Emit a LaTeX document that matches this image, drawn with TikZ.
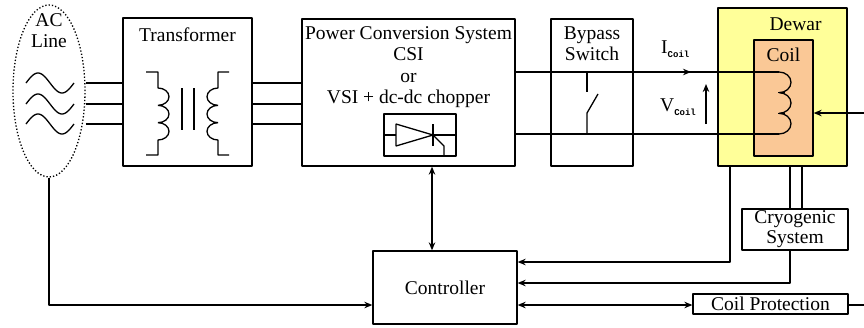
\documentclass[tikz,border=0pt]{standalone}
\usepackage{fontspec}
\setmainfont{Liberation Serif}
\newfontfamily\subfont{Liberation Mono}
\usepackage{tikz}
\usetikzlibrary{arrows.meta, shapes, positioning}
\usepackage{xcolor}
\definecolor{dewaryellow}{RGB}{255,255,153}
\definecolor{coilorange}{RGB}{250,200,150}
\tikzset{blockbox/.style={draw=black, line width=1.3pt, inner sep=0pt},
blocktext/.style={inner sep=0pt, font=\fontsize{19.5}{21.5}\selectfont, align=center},
wire/.style={line width=1.3pt},
sigarrow/.style={line width=1.3pt, -{Stealth[length=8pt, width=6.5pt]}},
sigdouble/.style={line width=1.3pt, {Stealth[length=8pt, width=6.5pt]}-{Stealth[length=8pt, width=6.5pt]}}}
\newcommand{\coilsub}[1]{\raisebox{-4pt}{\subfont\bfseries\fontsize{9}{9}\selectfont #1}}

\begin{document}
\begin{tikzpicture}[
                line join=bevel,
                wire/.style={line width=1.3pt}
            ]
                \useasboundingbox (0pt, 0pt) rectangle (864pt, -327pt);

                % Blocks
                \node[draw=black, line width=1.3pt, dash pattern=on 1.3pt off 2pt, ellipse, minimum width=72pt, minimum height=172pt, inner sep=0pt] (acline) at (49pt, -91pt) {};
                \node[blockbox, minimum width=129pt, minimum height=148pt] (trafo) at (187.5pt, -92pt) {};
                \node[blockbox, minimum width=213pt, minimum height=147pt] (pcs) at (408.5pt, -92.5pt) {};
                \node[blockbox, minimum width=72pt, minimum height=42pt] (thyr) at (420pt, -135pt) {};
                \node[blockbox, minimum width=82pt, minimum height=147pt] (bypass) at (592pt, -92.5pt) {};
                \node[blockbox, fill=dewaryellow, minimum width=129pt, minimum height=158pt] (dewar) at (782.5pt, -87pt) {};
                \node[blockbox, fill=coilorange, minimum width=59pt, minimum height=116pt] (coil) at (783.5pt, -98pt) {};
                \node[blockbox, minimum width=106pt, minimum height=41pt] (cryo) at (795pt, -229.5pt) {};
                \node[blockbox, minimum width=155pt, minimum height=20pt] (cprot) at (770.5pt, -304pt) {};
                \node[blockbox, minimum width=144pt, minimum height=73pt] (ctl) at (445pt, -287.5pt) {};

                % Labels
                \node[blocktext, below=9pt of acline.north] (aclinetext) {AC\\Line};
                \node[blocktext, below=10pt of trafo.north] (trafotext) {Transformer};
                \node[blocktext, below=8pt of pcs.north] (pcstext) {Power Conversion System\\CSI\\or\\VSI + dc-dc chopper};
                \node[blocktext, below=8pt of bypass.north] (bypasstext) {Bypass\\Switch};
                \node[blocktext, below=10pt of dewar.north, xshift=13pt] (dewartext) {Dewar};
                \node[blocktext, below=8pt of coil.north] (coiltext) {Coil};
                \node[blocktext, font=\fontsize{19.5}{20}\selectfont] (cryotext) at (cryo) {Cryogenic\\System};
                \node[blocktext] (cprottext) at (cprot) {Coil Protection};
                \node[blocktext] (ctltext) at (ctl) {Controller};
                \node[blocktext, anchor=base west] (icoil) at (661pt, -53pt) {I\coilsub{Coil}};
                \node[blocktext, anchor=base west] (vcoil) at (660pt, -111pt) {V\coilsub{Coil}};

                % AC phases
                \coordinate (ph1) at (50pt, -83pt);
                \coordinate (ph2) at (50pt, -104pt);
                \coordinate (ph3) at (50pt, -124pt);
                \foreach \ph in {ph1, ph2, ph3} {
\draw[wire, shift={(\ph)}] plot[domain=0:360, samples=37, smooth] ({(\x/360*48-24)*1pt}, {10*sin(\x)*1pt});
\draw[wire] (\ph -| acline.east) -- (\ph -| trafo.west);
\draw[wire] (\ph -| trafo.east) -- (\ph -| pcs.west);
}

                % Transformer windings
                \draw[wire] (146pt, -72pt) -- (158pt, -72pt) -- (158pt, -88pt)
                    arc[start angle=90, end angle=-90, x radius=11pt, y radius=8.67pt]
                    arc[start angle=90, end angle=-90, x radius=11pt, y radius=8.67pt]
                    arc[start angle=90, end angle=-90, x radius=11pt, y radius=8.67pt]
                    -- (158pt, -155pt) -- (146pt, -155pt);
                \draw[wire] (229pt, -72pt) -- (218pt, -72pt) -- (218pt, -88pt)
                    arc[start angle=90, end angle=270, x radius=11pt, y radius=8.67pt]
                    arc[start angle=90, end angle=270, x radius=11pt, y radius=8.67pt]
                    arc[start angle=90, end angle=270, x radius=11pt, y radius=8.67pt]
                    -- (218pt, -155pt) -- (229pt, -155pt);
                \draw[wire] (182pt, -88pt) -- (182pt, -130pt);
                \draw[wire] (194pt, -88pt) -- (194pt, -130pt);

                % Thyristor
                \draw[wire] (thyr.west) -- (396pt, -135pt) (433pt, -135pt) -- (thyr.east);
                \draw[wire] (396pt, -124pt) -- (396pt, -146pt) -- (433pt, -135pt) -- cycle;
                \draw[wire] (433pt, -124pt) -- (433pt, -146pt);
                \draw[wire] (433pt, -135pt) -- (444pt, -146pt) -- (444pt, -156pt);

                % DC link and coil
                \coordinate (dctop) at (779pt, -72pt);
                \coordinate (dcbot) at (779pt, -134pt);
                \draw[wire] (dctop -| pcs.east) -- (dctop);
                \draw[wire] (dcbot -| pcs.east) -- (dcbot);
                \draw[wire] (dctop)
                    arc[start angle=90, end angle=-90, x radius=12pt, y radius=10.33pt]
                    arc[start angle=90, end angle=-90, x radius=12pt, y radius=10.33pt]
                    arc[start angle=90, end angle=-90, x radius=12pt, y radius=10.33pt];
                \draw[wire] (778pt, -92.7pt) -- (785pt, -92.7pt);
                \draw[wire] (778pt, -113.3pt) -- (785pt, -113.3pt);

                % Bypass switch
                \draw[wire] (587pt, -72pt) -- (587pt, -92pt);
                \draw[wire] (587pt, -134pt) -- (587pt, -113pt) -- (598pt, -94pt);

                % Coil current and voltage
                \draw[sigarrow] (676pt, -72pt) -- (691pt, -72pt);
                \draw[sigarrow] (706pt, -124pt) -- (706pt, -84pt);

                % Feedback to controller
                \coordinate (pcsctl) at (432pt, 0pt);
                \coordinate (fbdewar) at (730pt, -262pt);
                \coordinate (fbcryo) at (790pt, -283pt);
                \coordinate (cryopipe) at (802pt, 0pt);
                \coordinate (fbprot) at (0pt, -305pt);
                \coordinate (protout) at (864pt, -305pt);
                \coordinate (coilin) at (864pt, -113pt);
                \draw[sigdouble] (pcsctl |- pcs.south) -- (pcsctl |- ctl.north);
                \draw[sigarrow] (acline.south) -- (acline.south |- fbprot) -- (fbprot -| ctl.west);
                \draw[sigarrow] (fbdewar |- dewar.south) -- (fbdewar) -- (fbdewar -| ctl.east);
                \draw[wire] (fbcryo |- dewar.south) -- (fbcryo |- cryo.north);
                \draw[wire] (cryopipe |- dewar.south) -- (cryopipe |- cryo.north);
                \draw[sigarrow] (fbcryo |- cryo.south) -- (fbcryo) -- (fbcryo -| ctl.east);
                \draw[sigdouble] (fbprot -| ctl.east) -- (fbprot -| cprot.west);
                \draw[wire] (fbprot -| cprot.east) -- (protout);
                \draw[sigarrow] (coilin) -- (coilin -| coil.east);
            \end{tikzpicture}
\end{document}
